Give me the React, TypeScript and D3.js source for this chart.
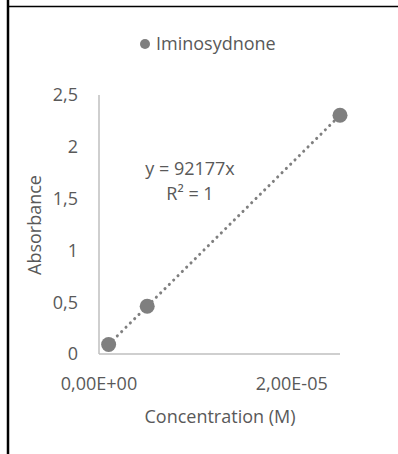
import React from "react";
import * as d3 from "d3";

const seriesName = "Iminosydnone";
const concentrations = [1e-6, 5e-6, 2.5e-5];
const absorbances = [0.092, 0.461, 2.304];
const slope = 92177;
const yTicks = [0, 0.5, 1, 1.5, 2, 2.5];
const xTicks = [0, 2e-5];
const equationLines = ["y = 92177x", "R² = 1"];
const xTitle = "Concentration (M)";
const yTitle = "Absorbance";

const W = 398;
const H = 454;
const FONT = "'Open Sans', sans-serif";
const FS = 18;
const TEXT = "#595959";
const GRAY = "#7f7f7f";

function fmtX(v: number) {
  if (v === 0) return "0,00E+00";
  const e = Math.floor(Math.log10(Math.abs(v)));
  const m = v / Math.pow(10, e);
  const sign = e < 0 ? "-" : "+";
  const ee = String(Math.abs(e)).padStart(2, "0");
  return m.toFixed(2).replace(".", ",") + "E" + sign + ee;
}
function fmtY(v: number) {
  return String(v).replace(".", ",");
}

export default function App() {
  const x = d3.scaleLinear().domain([0, 2.5e-5]).range([99, 340]);
  const y = d3.scaleLinear().domain([0, 2.5]).range([354, 95]);
  const x0 = concentrations[0];
  const x1 = concentrations[concentrations.length - 1];
  const trend = d3.line<number>()
    .x((d) => x(d))
    .y((d) => y(slope * d))([x0, x1]) as string;

  return (
    <svg width={W} height={H} style={{ position: "absolute", left: 0, top: 0, background: "#fff" }} fontFamily={FONT}>
      <rect x={0} y={0} width={W} height={H} fill="#fff" />
      {/* cell borders */}
      <line x1={8} x2={W} y1={6.5} y2={6.5} stroke="#000" strokeWidth={1.5} />
      <line x1={8} x2={8} y1={0} y2={H} stroke="#000" strokeWidth={2.5} />
      {/* legend */}
      <circle cx={145} cy={44} r={5} fill={GRAY} />
      <text x={156} y={44} dy="0.35em" fontSize={FS} fill={TEXT}>{seriesName}</text>
      {/* axes */}
      <line x1={x(0)} x2={x(0)} y1={y(2.5)} y2={y(0)} stroke="#bfbfbf" strokeWidth={1.5} />
      <line x1={x(0)} x2={x(2.5e-5)} y1={y(0)} y2={y(0)} stroke="#bfbfbf" strokeWidth={1.5} />
      {yTicks.map((t) => (
        <text key={t} x={78} y={y(t)} dy="0.35em" textAnchor="end" fontSize={FS} fill={TEXT}>{fmtY(t)}</text>
      ))}
      {xTicks.map((t) => (
        <text key={t} x={x(t)} y={384} dy="0.35em" textAnchor="middle" fontSize={FS} fill={TEXT}>{fmtX(t)}</text>
      ))}
      <text x={220} y={417} dy="0.35em" textAnchor="middle" fontSize={FS} fill={TEXT}>{xTitle}</text>
      <text transform={`translate(35,225) rotate(-90)`} dy="0.35em" textAnchor="middle" fontSize={FS} fill={TEXT}>{yTitle}</text>
      {/* trendline */}
      <path d={trend} fill="none" stroke={GRAY} strokeWidth={3} strokeDasharray="0.1 6" strokeLinecap="round" />
      {/* points */}
      {concentrations.map((c, i) => (
        <circle key={i} cx={x(c)} cy={y(absorbances[i])} r={7.5} fill={GRAY} />
      ))}
      {/* equation */}
      {equationLines.map((l, i) => (
        <text key={i} x={190} y={169 + i * 25} dy="0.35em" textAnchor="middle" fontSize={FS} fill={TEXT}>{l}</text>
      ))}
    </svg>
  );
}
